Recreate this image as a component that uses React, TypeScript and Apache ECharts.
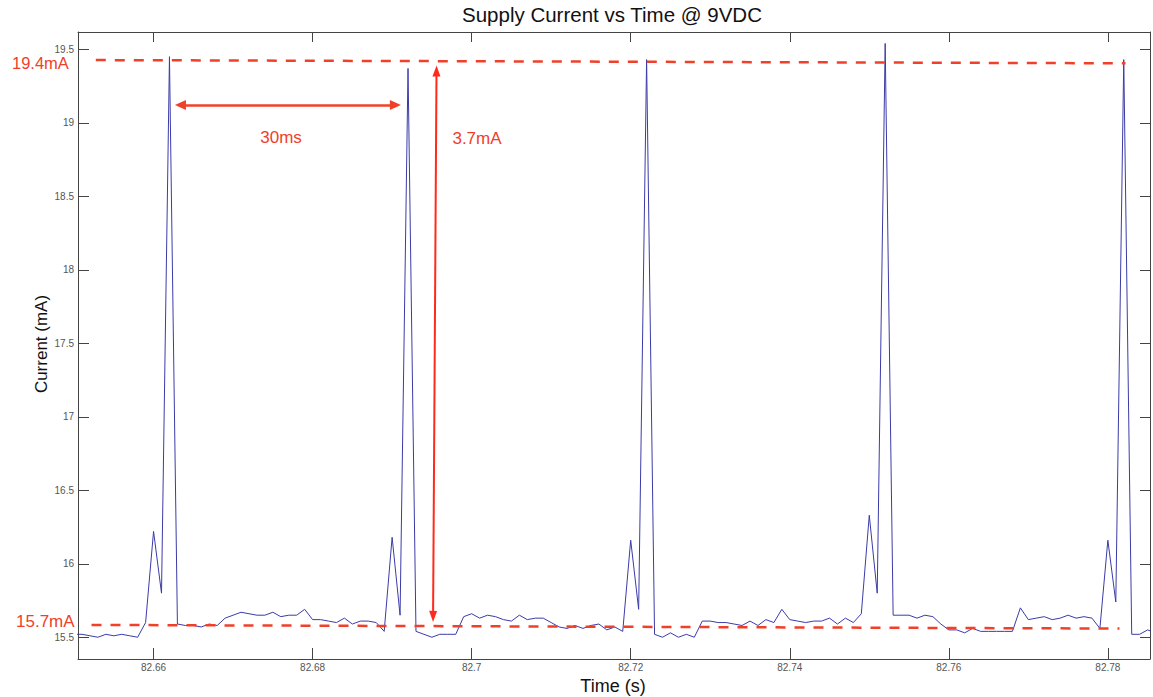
import { useEffect, useRef } from "react";
import * as echarts from "echarts";

// Sampling clock of the recorded trace (1 ms sample period)
const startTime = 82.65;
const samplePeriod = 0.001;

// Supply current (mA), one value per sample
const current = [
  15.52, 15.52, 15.51, 15.5, 15.52, 15.51, 15.52, 15.51, 15.5, 15.6,
  16.22, 15.8, 19.45, 15.59, 15.58, 15.58, 15.57, 15.59, 15.58, 15.63,
  15.65, 15.67, 15.66, 15.65, 15.65, 15.67, 15.64, 15.65, 15.65, 15.69,
  15.62, 15.62, 15.61, 15.6, 15.63, 15.59, 15.61, 15.61, 15.6, 15.54,
  16.18, 15.65, 19.37, 15.54, 15.52, 15.5, 15.52, 15.52, 15.52, 15.64,
  15.66, 15.63, 15.65, 15.64, 15.62, 15.61, 15.65, 15.62, 15.63, 15.63,
  15.6, 15.57, 15.56, 15.58, 15.56, 15.58, 15.59, 15.55, 15.57, 15.54,
  16.16, 15.69, 19.43, 15.52, 15.5, 15.53, 15.5, 15.52, 15.5, 15.61,
  15.61, 15.6, 15.6, 15.59, 15.58, 15.61, 15.58, 15.62, 15.6, 15.69,
  15.62, 15.61, 15.6, 15.61, 15.61, 15.63, 15.59, 15.63, 15.6, 15.66,
  16.33, 15.8, 19.54, 15.65, 15.65, 15.65, 15.63, 15.65, 15.64, 15.59,
  15.55, 15.55, 15.53, 15.56, 15.54, 15.54, 15.54, 15.54, 15.54, 15.7,
  15.62, 15.63, 15.64, 15.62, 15.63, 15.65, 15.63, 15.64, 15.63, 15.56,
  16.16, 15.74, 19.43, 15.52, 15.52, 15.55, 15.53,
];

// Axis ranges and tick labels
const xRange = [82.6505, 82.7853];
const yRange = [15.352, 19.618];
const xTickValues = [82.66, 82.68, 82.7, 82.72, 82.74, 82.76, 82.78];
const xTickLabels = ["82.66", "82.68", "82.7", "82.72", "82.74", "82.76", "82.78"];
const yTickValues = [15.5, 16, 16.5, 17, 17.5, 18, 18.5, 19, 19.5];
const yTickLabels = ["15.5", "16", "16.5", "17", "17.5", "18", "18.5", "19", "19.5"];

// Annotation guide lines (data coordinates)
const topLevelLine = [[82.65274, 19.427], [82.78222, 19.405]];
const baseLevelLine = [[82.6522, 15.584], [82.78146, 15.559]];
const periodArrow = [[82.66338, 19.1206], [82.69041, 19.1206]];
const swingArrow = [[82.69558, 19.353], [82.69515, 15.642]];

const title = "Supply Current vs Time @ 9VDC";
const xName = "Time (s)";
const yName = "Current (mA)";
const annotationTexts = ["19.4mA", "15.7mA", "30ms", "3.7mA"];

const RED = "#f0402a";
const FONT = "'Liberation Sans', Arial, Helvetica, sans-serif";

function labelFor(values: number[], labels: string[], v: number) {
  for (let i = 0; i < values.length; i++) {
    if (Math.abs(values[i] - v) < 1e-6) return labels[i];
  }
  return "";
}

function textEl(text: string, x: number, y: number, size: number, fill: string, align: string, extra: any = {}) {
  return {
    type: "text",
    x,
    y,
    ...extra,
    style: {
      text,
      font: `${size}px ${FONT}`,
      fill,
      align,
      verticalAlign: "middle",
      textAlign: align,
      textVerticalAlign: "middle",
      lineHeight: Math.round(size * 0.8),
    },
  };
}

export default function App() {
  const ref = useRef<HTMLDivElement>(null);

  useEffect(() => {
    if (!ref.current) return;
    const chart = echarts.init(ref.current, undefined, { renderer: "svg" });
    const data = current.map((v, i) => [startTime + i * samplePeriod, v]);

    const axisLine = { show: true, lineStyle: { color: "#444", width: 1 } };
    const axisTick = { show: true, inside: true, length: 11, lineStyle: { color: "#444", width: 1 } };
    const hiddenLabel = { show: false };

    const dashStyle = { color: RED, width: 2.5, type: [10, 9] as any };

    const option: any = {
      animation: false,
      backgroundColor: "#ffffff",
      grid: { left: 78, right: 2, top: 32, bottom: 38, containLabel: false },
      xAxis: [
        {
          type: "value",
          position: "bottom",
          min: xRange[0],
          max: xRange[1],
          splitNumber: 7,
          axisLine,
          axisTick,
          splitLine: { show: false },
          axisLabel: {
            color: "#555",
            fontSize: 10,
            fontFamily: FONT,
            margin: 3,
            formatter: (v: number) => labelFor(xTickValues, xTickLabels, v),
          },
        },
        {
          type: "value",
          position: "top",
          min: xRange[0],
          max: xRange[1],
          splitNumber: 7,
          axisLine,
          axisTick: { ...axisTick, length: 10 },
          splitLine: { show: false },
          axisLabel: hiddenLabel,
        },
      ],
      yAxis: [
        {
          type: "value",
          position: "left",
          min: yRange[0],
          max: yRange[1],
          splitNumber: 8,
          axisLine,
          axisTick,
          splitLine: { show: false },
          axisLabel: {
            color: "#555",
            fontSize: 10,
            fontFamily: FONT,
            margin: 4,
            lineHeight: 9,
            formatter: (v: number) => labelFor(yTickValues, yTickLabels, v),
          },
        },
        {
          type: "value",
          position: "right",
          min: yRange[0],
          max: yRange[1],
          splitNumber: 8,
          axisLine,
          axisTick: { ...axisTick, length: 10 },
          splitLine: { show: false },
          axisLabel: hiddenLabel,
        },
      ],
      series: [
        {
          type: "line",
          data,
          xAxisIndex: 0,
          yAxisIndex: 0,
          symbol: "none",
          clip: true,
          lineStyle: { color: "#3b3ba8", width: 1 },
          z: 2,
          markLine: {
            silent: true,
            animation: false,
            label: { show: false },
            emphasis: { disabled: true },
            data: [
              [
                { coord: topLevelLine[0], symbol: "none", lineStyle: dashStyle },
                { coord: topLevelLine[1], symbol: "none" },
              ],
              [
                { coord: baseLevelLine[0], symbol: "none", lineStyle: dashStyle },
                { coord: baseLevelLine[1], symbol: "none" },
              ],
              [
                {
                  coord: periodArrow[0],
                  symbol: "triangle",
                  symbolSize: [10, 11],
                  lineStyle: { color: RED, width: 2.5, type: "solid" },
                },
                { coord: periodArrow[1], symbol: "triangle", symbolSize: [10, 11] },
              ],
              [
                {
                  coord: swingArrow[0],
                  symbol: "triangle",
                  symbolSize: [8, 11],
                  lineStyle: { color: "#ff2a1c", width: 2, type: "solid" },
                },
                { coord: swingArrow[1], symbol: "triangle", symbolSize: [8, 11] },
              ],
            ],
          },
        },
      ],
      graphic: [
        textEl(title, 612, 14, 20.5, "#111", "center"),
        textEl(xName, 613, 686, 18, "#111", "center"),
        textEl(yName, 41, 344, 17, "#111", "center", { rotation: Math.PI / 2 }),
        textEl(annotationTexts[0], 12, 63, 16.5, RED, "left"),
        textEl(annotationTexts[1], 16, 621, 17, RED, "left"),
        textEl(annotationTexts[2], 281, 137, 17, RED, "center"),
        textEl(annotationTexts[3], 477, 138, 17, RED, "center"),
      ],
    };

    chart.setOption(option);
    return () => chart.dispose();
  }, []);

  return (
    <div
      ref={ref}
      style={{ position: "fixed", left: 0, top: 0, width: 1153, height: 697, background: "#fff" }}
    />
  );
}
